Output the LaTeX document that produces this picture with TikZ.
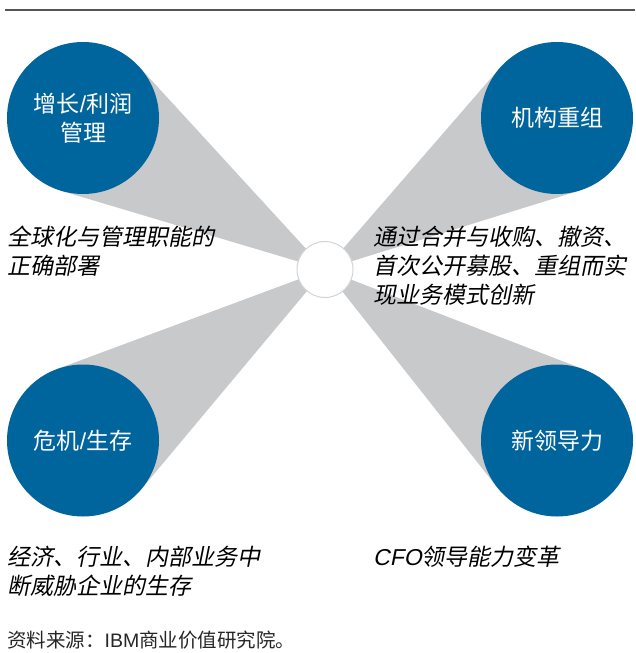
\documentclass[tikz,border=0pt]{standalone}
\usepackage{fontspec}
\setmainfont{Noto Sans CJK SC}
\newfontfamily\cjkit[FakeSlant=0.2]{Noto Sans CJK SC}
\newfontfamily\latinit[FakeSlant=0.2]{Liberation Sans}
\newfontfamily\latin{Liberation Sans}
\usetikzlibrary{calc,backgrounds}
\definecolor{ibmblue}{RGB}{0,101,157}
\definecolor{conegray}{RGB}{200,201,203}
\definecolor{rulegray}{RGB}{85,85,85}
\definecolor{hubgray}{RGB}{212,212,212}
\begin{document}
\begin{tikzpicture}[x=1pt,y=-1pt,
  bigc/.style={circle,fill=ibmblue,minimum size=152pt,inner sep=0pt,outer sep=0pt,text=white,align=center,font=\fontsize{23}{29}\selectfont},
  hub/.style={circle,fill=white,draw=hubgray,line width=1pt,minimum size=56pt,inner sep=0pt,outer sep=0pt},
  cone/.style={fill=conegray},
  desc/.style={anchor=west,align=left,inner sep=0pt,font=\cjkit\fontsize{23}{29}\selectfont,text=black},
]
\useasboundingbox (0,0) rectangle (635,653);
\coordinate (L0) at (5,10);
\coordinate (L1) at (635,10);
\draw[rulegray,line width=2pt] (L0) -- (L1);
\node[hub] (P) at (325,269.5) {};
\node[bigc] (TL) at (83,118) {增长{\latin /}利润\\管理};
\node[bigc] (TR) at (557,118) {机构重组};
\node[bigc] (BL) at (83,440.5) {危机{\latin /}生存};
\node[bigc] (BR) at (557,440.5) {新领导力};
\begin{scope}[on background layer]
\foreach \n in {TL,TR,BL,BR}{
  \fill[cone] (P.center) -- (tangent cs:node=\n,point={(P.center)},solution=1) -- (\n.center) -- (tangent cs:node=\n,point={(P.center)},solution=2) -- cycle;
}
\end{scope}
\node[desc] (dTL) at (7,251) {全球化与管理职能的\\正确部署};
\node[desc] (dTR) at (373,266) {通过合并与收购、撤资、\\首次公开募股、重组而实\\现业务模式创新};
\node[desc] (dBL) at (7,571.5) {经济、行业、内部业务中\\断威胁企业的生存};
\node[desc] (dBR) at (373,557) {{\latinit CFO}领导能力变革};
\node[anchor=west,inner sep=0pt,font=\fontsize{19.5}{22}\selectfont,text=black!85] (src) at (7,640) {资料来源：{\latin IBM}商业价值研究院。};
\end{tikzpicture}
\end{document}
